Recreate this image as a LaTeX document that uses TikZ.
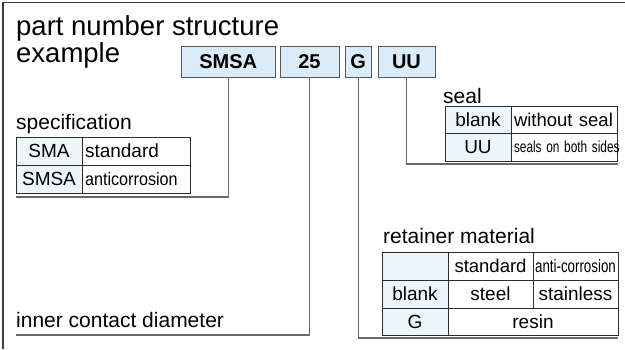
\documentclass[tikz,border=0pt]{standalone}
\usepackage{fontspec}
\setmainfont{Liberation Sans}
\usepackage{tikz}
\usetikzlibrary{positioning}
\definecolor{boxblue}{RGB}{218,235,250}
\definecolor{keyblue}{RGB}{237,245,253}
\definecolor{frameline}{RGB}{60,60,60}
\definecolor{connline}{RGB}{105,105,105}
\definecolor{tabline}{RGB}{45,45,45}
\newcommand{\squeeze}[2]{\scalebox{#1}[1]{#2}}

\begin{document}
\begin{tikzpicture}[x=1pt, y=-1pt,
    pbox/.style={draw=tabline!80, fill=boxblue, line width=0.9pt, minimum height=31pt, inner sep=0pt, font=\fontsize{20}{20}\selectfont\bfseries},
    cell/.style={draw=tabline, line width=0.9pt, inner sep=0pt, minimum height=28pt, font=\fontsize{19}{19}\selectfont},
    keycell/.style={cell, fill=keyblue},
    lcell/.style={cell, align=left, inner xsep=3pt},
    lbl/.style={anchor=base west, inner sep=0pt, font=\fontsize{21}{21}\selectfont},
    conn/.style={draw=connline, line width=1.4pt}]

    \useasboundingbox (0,0) rectangle (625,349);
    \draw[frameline, line width=1.4pt] (3,349) -- (3,2.5) -- (625,2.5);

    % title
    \node[anchor=base west, inner sep=0pt, align=left, font=\fontsize{27.5}{25}\selectfont] (title) at (16,62.5) {part number structure\\example};

    % part number boxes
    \node[pbox, minimum width=93.5pt] (smsa) at (228.25,61.5) {SMSA};
    \node[pbox, minimum width=59pt] (num) at (309.5,61.5) {25};
    \node[pbox, minimum width=26.5pt] (ret) at (358.25,61.5) {G};
    \node[pbox, minimum width=57pt] (seal) at (406.5,61.5) {UU};

    % specification
    \node[lbl] (speclbl) at (16,129.5) {specification};
    \node[keycell, minimum width=66pt] (sma) at (49,151) {SMA};
    \node[lcell, minimum width=108pt, text width=102pt] (smastd) at (136,151) {\fontsize{19}{19}\selectfont standard};
    \node[keycell, minimum width=66pt] (smsak) at (49,179) {SMSA};
    \node[lcell, minimum width=108pt, text width=102pt] (smsaac) at (136,179) {\fontsize{18}{18}\selectfont\squeeze{0.9}{anticorrosion}};

    % seal
    \node[lbl] (seallbl) at (443,103) {seal};
    \node[keycell, minimum width=66pt, minimum height=27.5pt] (sblank) at (478,119.75) {blank};
    \node[lcell, minimum width=106pt, minimum height=27.5pt, text width=100pt] (snone) at (564,119.75) {\fontsize{18.5}{18.5}\selectfont without seal};
    \node[keycell, minimum width=66pt, minimum height=27.5pt] (suu) at (478,147.25) {UU};
    \node[lcell, minimum width=106pt, minimum height=27.5pt, text width=100pt] (sboth) at (564,147.25) {\fontsize{16}{16}\selectfont\squeeze{0.74}{seals on both sides}};

    % retainer material
    \node[lbl] (retlbl) at (383,243) {retainer material};
    \node[keycell, minimum width=66pt] (rhead) at (415,266) {};
    \node[cell, minimum width=85pt] (rstd) at (490.5,266) {\fontsize{18.5}{18.5}\selectfont standard};
    \node[cell, minimum width=85pt] (ranti) at (575.5,266) {\fontsize{18}{18}\selectfont\squeeze{0.74}{anti-corrosion}};
    \node[keycell, minimum width=66pt] (rblank) at (415,294) {blank};
    \node[cell, minimum width=85pt] (rsteel) at (490.5,294) {steel};
    \node[cell, minimum width=85pt] (rstain) at (575.5,294) {stainless};
    \node[keycell, minimum width=66pt, minimum height=27pt] (rg) at (415,321.5) {G};
    \node[cell, minimum width=170pt, minimum height=27pt] (rresin) at (533,321.5) {resin};

    % inner contact diameter
    \node[lbl] (dialbl) at (16,327) {inner contact diameter};

    % connectors
    \coordinate (specend) at (16,197);
    \coordinate (diaend) at (16,335);
    \coordinate (retend) at (618,338);
    \coordinate (sealend) at (618,164);
    \draw[conn] (smsa.south) |- (specend);
    \draw[conn] (num.south) |- (diaend);
    \draw[conn] (ret.south) |- (retend);
    \draw[conn] (seal.south) |- (sealend);
\end{tikzpicture}
\end{document}
